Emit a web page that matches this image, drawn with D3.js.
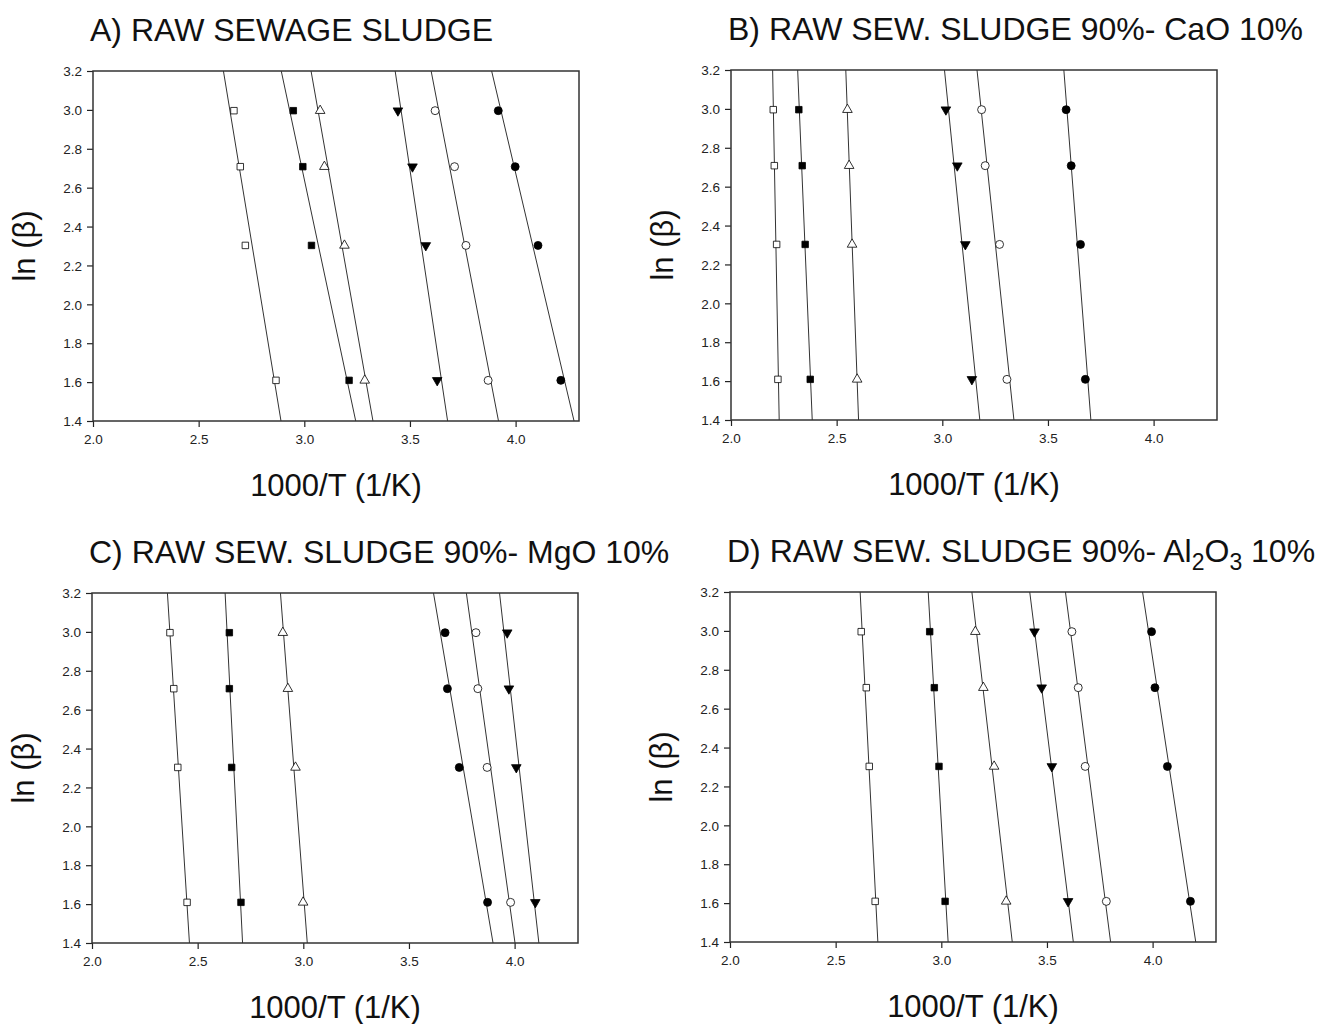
<!DOCTYPE html>
<html>
<head>
<meta charset="utf-8">
<script src="https://cdn.jsdelivr.net/npm/d3@7"></script>
<style>
  body { margin: 0; background: #fff; }
  svg { display: block; font-family: Arial, "Liberation Sans", sans-serif; }
</style>
</head>
<body>
<svg id="chart" width="1317" height="1024"></svg>
<script>
// ln(beta) for heating rates 20, 15, 10, 5 K/min
const lnBeta = [2.996, 2.708, 2.303, 1.609];
const xTicks = [2.0, 2.5, 3.0, 3.5, 4.0];
const yTicks = [1.4, 1.6, 1.8, 2.0, 2.2, 2.4, 2.6, 2.8, 3.0, 3.2];
const seriesKeys = ["sqOpen", "sqFill", "triOpen", "triDown", "circOpen", "circFill"];

// 1000/T values (1/K) for each series, ordered like lnBeta
const panelA_sqOpen   = [2.667, 2.697, 2.721, 2.866];
const panelA_sqFill   = [2.948, 2.993, 3.034, 3.212];
const panelA_triOpen  = [3.075, 3.095, 3.190, 3.286];
const panelA_triDown  = [3.443, 3.512, 3.575, 3.629];
const panelA_circOpen = [3.619, 3.711, 3.765, 3.870];
const panelA_circFill = [3.918, 3.998, 4.106, 4.214];

const panelB_sqOpen   = [2.200, 2.205, 2.216, 2.222];
const panelB_sqFill   = [2.321, 2.337, 2.351, 2.375];
const panelB_triOpen  = [2.551, 2.559, 2.573, 2.597];
const panelB_triDown  = [3.017, 3.071, 3.109, 3.140];
const panelB_circOpen = [3.186, 3.203, 3.271, 3.306];
const panelB_circFill = [3.586, 3.610, 3.654, 3.677];

const panelC_sqOpen   = [2.369, 2.387, 2.406, 2.450];
const panelC_sqFill   = [2.650, 2.650, 2.661, 2.705];
const panelC_triOpen  = [2.903, 2.927, 2.963, 2.999];
const panelC_triDown  = [3.965, 3.973, 4.008, 4.098];
const panelC_circOpen = [3.817, 3.826, 3.870, 3.981];
const panelC_circFill = [3.671, 3.682, 3.738, 3.872];

const panelD_sqOpen   = [2.621, 2.645, 2.659, 2.687];
const panelD_sqFill   = [2.945, 2.967, 2.989, 3.018];
const panelD_triOpen  = [3.161, 3.199, 3.250, 3.307];
const panelD_triDown  = [3.441, 3.475, 3.523, 3.600];
const panelD_circOpen = [3.618, 3.648, 3.681, 3.781];
const panelD_circFill = [3.995, 4.011, 4.070, 4.179];

const panels = [
  { title: [["A) RAW SEWAGE SLUDGE", false]], left: 93, top: 71, right: 579, bottom: 421,
    series: [panelA_sqOpen, panelA_sqFill, panelA_triOpen, panelA_triDown, panelA_circOpen, panelA_circFill] },
  { title: [["B) RAW SEW. SLUDGE 90%- CaO 10%", false]], left: 731, top: 70, right: 1217, bottom: 420,
    series: [panelB_sqOpen, panelB_sqFill, panelB_triOpen, panelB_triDown, panelB_circOpen, panelB_circFill] },
  { title: [["C) RAW SEW. SLUDGE 90%- MgO 10%", false]], left: 92, top: 593, right: 578, bottom: 943,
    series: [panelC_sqOpen, panelC_sqFill, panelC_triOpen, panelC_triDown, panelC_circOpen, panelC_circFill] },
  { title: [["D) RAW SEW. SLUDGE 90%- Al", false], ["2", true], ["O", false], ["3", true], [" 10%", false]],
    left: 730, top: 592, right: 1216, bottom: 942,
    series: [panelD_sqOpen, panelD_sqFill, panelD_triOpen, panelD_triDown, panelD_circOpen, panelD_circFill] }
];

const markerStyle = {
  sqOpen:   { type: d3.symbolSquare,   size: 42, fill: "#fff", rot: 0 },
  sqFill:   { type: d3.symbolSquare,   size: 42, fill: "#000", rot: 0 },
  triOpen:  { type: d3.symbolTriangle, size: 40, fill: "#fff", rot: 0 },
  triDown:  { type: d3.symbolTriangle, size: 40, fill: "#000", rot: 180 },
  circOpen: { type: d3.symbolCircle,   size: 50, fill: "#fff", rot: 0 },
  circFill: { type: d3.symbolCircle,   size: 50, fill: "#000", rot: 0 }
};

const svg = d3.select("#chart");
const defs = svg.append("defs");

function linreg(xs, ys) {
  const mx = d3.mean(xs), my = d3.mean(ys);
  let sxy = 0, sxx = 0;
  xs.forEach((x, i) => { sxy += (x - mx) * (ys[i] - my); sxx += (x - mx) * (x - mx); });
  const slope = sxy / sxx;
  return { slope, intercept: my - slope * mx };
}

panels.forEach((p, pi) => {
  const x = d3.scaleLinear().domain([2.0, 4.3]).range([p.left, p.right]);
  const y = d3.scaleLinear().domain([1.4, 3.2]).range([p.bottom, p.top]);
  const g = svg.append("g");

  const clipId = "clip" + pi;
  defs.append("clipPath").attr("id", clipId).append("rect")
    .attr("x", p.left).attr("y", p.top)
    .attr("width", p.right - p.left).attr("height", p.bottom - p.top);

  // Title
  const t = g.append("text")
    .attr("x", p.left - 3).attr("y", (p.top - 30))
    .attr("font-size", 32).attr("fill", "#111");
  p.title.forEach(([txt, sub]) => {
    if (sub) t.append("tspan").attr("dy", 8).attr("font-size", 23).text(txt);
    else {
      const ts = t.append("tspan").text(txt);
      if (t.selectAll("tspan").size() > 1) ts.attr("dy", -8);
    }
  });

  // Axes
  const xAxis = d3.axisBottom(x).tickValues(xTicks).tickFormat(d3.format(".1f")).tickSize(6).tickSizeOuter(0);
  const yAxis = d3.axisLeft(y).tickValues(yTicks).tickFormat(d3.format(".1f")).tickSize(6).tickSizeOuter(0);
  const gx = g.append("g").attr("transform", `translate(0,${p.bottom})`).call(xAxis);
  const gy = g.append("g").attr("transform", `translate(${p.left},0)`).call(yAxis);
  [gx, gy].forEach(a => {
    a.select(".domain").remove();
    a.selectAll("line").attr("stroke", "#222").attr("stroke-width", 1.2);
    a.selectAll("text").attr("font-size", 13.5).attr("fill", "#222")
      .attr("font-family", "Arial, 'Liberation Sans', sans-serif");
  });
  gx.selectAll("text").attr("dy", null).attr("y", 23);
  gy.selectAll("text").attr("x", -11).attr("dy", "0.35em");

  // Frame
  g.append("rect").attr("x", p.left).attr("y", p.top)
    .attr("width", p.right - p.left).attr("height", p.bottom - p.top)
    .attr("fill", "none").attr("stroke", "#333").attr("stroke-width", 1.5);

  // Axis titles
  g.append("text").attr("x", (p.left + p.right) / 2).attr("y", p.bottom + 75)
    .attr("text-anchor", "middle").attr("font-size", 31).attr("fill", "#111")
    .text("1000/T (1/K)");
  g.append("text")
    .attr("transform", `translate(${p.left - 58},${(p.top + p.bottom) / 2}) rotate(-90)`)
    .attr("text-anchor", "middle").attr("font-size", 31).attr("fill", "#111")
    .text("ln (β)");

  // Fit lines (least squares of ln(beta) on 1000/T)
  const lg = g.append("g").attr("clip-path", `url(#${clipId})`);
  p.series.forEach((xs, si) => {
    const r = linreg(xs, lnBeta);
    const yTop = 3.25, yBot = 1.35;
    lg.append("line")
      .attr("x1", x((yTop - r.intercept) / r.slope)).attr("y1", y(yTop))
      .attr("x2", x((yBot - r.intercept) / r.slope)).attr("y2", y(yBot))
      .attr("stroke", "#333").attr("stroke-width", 1);
  });

  // Markers
  p.series.forEach((xs, si) => {
    const st = markerStyle[seriesKeys[si]];
    const sym = d3.symbol().type(st.type).size(st.size);
    g.append("g").selectAll("path").data(xs).join("path")
      .attr("d", sym)
      .attr("transform", (d, i) => `translate(${x(d)},${y(lnBeta[i])}) rotate(${st.rot})`)
      .attr("fill", st.fill)
      .attr("stroke", "#000").attr("stroke-width", 0.8);
  });
});
</script>
</body>
</html>
